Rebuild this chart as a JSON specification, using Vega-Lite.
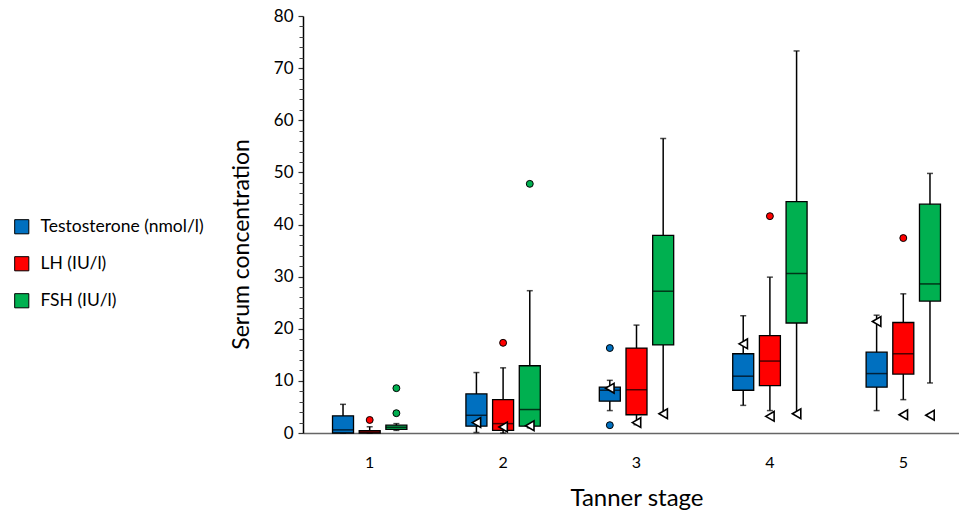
{
  "$schema": "https://vega.github.io/schema/vega-lite/v6.json",
  "width": 656,
  "height": 417,
  "autosize": {"type": "none"},
  "padding": {"left": 303, "top": 16, "right": 0, "bottom": 82},
  "background": "white",
  "config": {"view": {"stroke": null}, "font": "Lato"},
  "resolve": {"axis": {"y": "independent"}},
  "datasets": {
    "boxes": [
      {"stage": 1, "hormone": "Testosterone (nmol/l)", "lo": 0, "q1": 0, "med": 0.6, "q3": 3.3, "hi": 5.5},
      {"stage": 1, "hormone": "LH (IU/l)", "lo": 0, "q1": 0, "med": 0.2, "q3": 0.45, "hi": 1.2},
      {"stage": 1, "hormone": "FSH (IU/l)", "lo": 0.5, "q1": 0.7, "med": 1.1, "q3": 1.5, "hi": 1.8},
      {"stage": 2, "hormone": "Testosterone (nmol/l)", "lo": 0.1, "q1": 1.3, "med": 3.4, "q3": 7.5, "hi": 11.6},
      {"stage": 2, "hormone": "LH (IU/l)", "lo": 0, "q1": 0.5, "med": 1.8, "q3": 6.4, "hi": 12.5},
      {"stage": 2, "hormone": "FSH (IU/l)", "lo": 1.0, "q1": 1.3, "med": 4.5, "q3": 12.9, "hi": 27.3},
      {"stage": 3, "hormone": "Testosterone (nmol/l)", "lo": 4.3, "q1": 6.1, "med": 8.2, "q3": 8.8, "hi": 10.1},
      {"stage": 3, "hormone": "LH (IU/l)", "lo": 1.6, "q1": 3.5, "med": 8.3, "q3": 16.3, "hi": 20.7},
      {"stage": 3, "hormone": "FSH (IU/l)", "lo": 3.7, "q1": 16.9, "med": 27.2, "q3": 37.9, "hi": 56.5},
      {"stage": 4, "hormone": "Testosterone (nmol/l)", "lo": 5.3, "q1": 8.2, "med": 10.9, "q3": 15.2, "hi": 22.5},
      {"stage": 4, "hormone": "LH (IU/l)", "lo": 4.3, "q1": 9.1, "med": 13.8, "q3": 18.7, "hi": 29.9},
      {"stage": 4, "hormone": "FSH (IU/l)", "lo": 3.7, "q1": 21.1, "med": 30.6, "q3": 44.4, "hi": 73.3},
      {"stage": 5, "hormone": "Testosterone (nmol/l)", "lo": 4.3, "q1": 8.8, "med": 11.4, "q3": 15.5, "hi": 22.6},
      {"stage": 5, "hormone": "LH (IU/l)", "lo": 6.4, "q1": 11.3, "med": 15.2, "q3": 21.2, "hi": 26.7},
      {"stage": 5, "hormone": "FSH (IU/l)", "lo": 9.6, "q1": 25.3, "med": 28.6, "q3": 43.9, "hi": 49.8}
    ],
    "outliers": [
      {"stage": 1, "hormone": "LH (IU/l)", "value": 2.5},
      {"stage": 1, "hormone": "FSH (IU/l)", "value": 8.6},
      {"stage": 1, "hormone": "FSH (IU/l)", "value": 3.8},
      {"stage": 2, "hormone": "LH (IU/l)", "value": 17.3},
      {"stage": 2, "hormone": "FSH (IU/l)", "value": 47.8},
      {"stage": 3, "hormone": "Testosterone (nmol/l)", "value": 16.3},
      {"stage": 3, "hormone": "Testosterone (nmol/l)", "value": 1.5},
      {"stage": 4, "hormone": "LH (IU/l)", "value": 41.6},
      {"stage": 5, "hormone": "LH (IU/l)", "value": 37.4}
    ],
    "markers": [
      {"stage": 2, "hormone": "Testosterone (nmol/l)", "value": 2.0},
      {"stage": 2, "hormone": "LH (IU/l)", "value": 1.15},
      {"stage": 2, "hormone": "FSH (IU/l)", "value": 1.4},
      {"stage": 3, "hormone": "Testosterone (nmol/l)", "value": 8.6},
      {"stage": 3, "hormone": "LH (IU/l)", "value": 2.0},
      {"stage": 3, "hormone": "FSH (IU/l)", "value": 3.7},
      {"stage": 4, "hormone": "Testosterone (nmol/l)", "value": 17.1},
      {"stage": 4, "hormone": "LH (IU/l)", "value": 3.2},
      {"stage": 4, "hormone": "FSH (IU/l)", "value": 3.7},
      {"stage": 5, "hormone": "Testosterone (nmol/l)", "value": 21.4},
      {"stage": 5, "hormone": "LH (IU/l)", "value": 3.5},
      {"stage": 5, "hormone": "FSH (IU/l)", "value": 3.4}
    ]
  },
  "encoding": {
    "x": {
      "field": "stage",
      "type": "ordinal",
      "scale": {"domain": [1, 2, 3, 4, 5], "range": [0, 667], "paddingInner": 0, "paddingOuter": 0},
      "axis": {
        "title": "Tanner stage",
        "titleFontSize": 24,
        "titleFontWeight": "normal",
        "titleColor": "#000",
        "titlePadding": 16,
        "labelAngle": 0,
        "labelFontSize": 16,
        "labelColor": "#000",
        "labelPadding": 21,
        "ticks": false,
        "domainColor": "#666",
        "domainWidth": 1.5
      }
    },
    "xOffset": {
      "field": "hormone",
      "type": "nominal",
      "scale": {"domain": ["Testosterone (nmol/l)", "LH (IU/l)", "FSH (IU/l)"], "paddingInner": 0, "paddingOuter": 1.46}
    }
  },
  "layer": [
    {
      "data": {"name": "boxes"},
      "mark": {"type": "rule", "color": "black", "strokeWidth": 1.5},
      "encoding": {
        "y": {
          "field": "lo",
          "type": "quantitative",
          "scale": {"domain": [0, 80], "nice": false},
          "axis": {
            "orient": "left",
            "title": "Serum concentration",
            "titleFontSize": 23,
            "titleFontWeight": "normal",
            "titleColor": "#000",
            "titlePadding": 20,
            "titleY": 228,
            "values": [0, 10, 20, 30, 40, 50, 60, 70, 80],
            "labelOverlap": false,
            "labelFlush": false,
            "labelFontSize": 17,
            "labelColor": "#000",
            "labelPadding": 5,
            "tickSize": 5,
            "tickWidth": 1.2,
            "tickColor": "#333",
            "domainColor": "#000",
            "domainWidth": 1.5,
            "grid": false
          }
        },
        "y2": {"field": "hi"}
      }
    },
    {
      "data": {"name": "boxes"},
      "mark": {"type": "tick", "color": "black", "size": 6, "thickness": 1.5},
      "encoding": {
        "y": {
          "field": "hi",
          "type": "quantitative",
          "axis": {
            "orient": "left",
            "title": null,
            "values": [2, 4, 6, 8, 12, 14, 16, 18, 22, 24, 26, 28, 32, 34, 36, 38, 42, 44, 46, 48, 52, 54, 56, 58, 62, 64, 66, 68, 72, 74, 76, 78],
            "labels": false,
            "domain": false,
            "grid": false,
            "tickSize": 4,
            "tickWidth": 1,
            "tickColor": "#444"
          }
        }
      }
    },
    {
      "data": {"name": "boxes"},
      "mark": {"type": "tick", "color": "black", "size": 6, "thickness": 1.5},
      "encoding": {"y": {"field": "lo", "type": "quantitative", "axis": null}}
    },
    {
      "data": {"name": "boxes"},
      "mark": {"type": "bar", "size": 21, "stroke": "black", "strokeWidth": 1.3},
      "encoding": {
        "y": {"field": "q1", "type": "quantitative", "axis": null},
        "y2": {"field": "q3"},
        "color": {
          "field": "hormone",
          "type": "nominal",
          "scale": {"domain": ["Testosterone (nmol/l)", "LH (IU/l)", "FSH (IU/l)"], "range": ["#0070C0", "#FF0000", "#00B050"]},
          "legend": {
            "title": null,
            "orient": "none",
            "legendX": -290,
            "legendY": 202,
            "symbolType": "square",
            "symbolSize": 200,
            "symbolStrokeColor": "black",
            "symbolStrokeWidth": 1,
            "labelFontSize": 17.5,
            "labelLimit": 300,
            "labelColor": "#000",
            "labelOffset": 10,
            "rowPadding": 18
          }
        }
      }
    },
    {
      "data": {"name": "boxes"},
      "mark": {"type": "tick", "color": "black", "size": 21, "thickness": 1.5},
      "encoding": {"y": {"field": "med", "type": "quantitative", "axis": null}}
    },
    {
      "data": {"name": "outliers"},
      "mark": {"type": "point", "filled": true, "stroke": "black", "strokeWidth": 1, "size": 48, "opacity": 1},
      "encoding": {
        "y": {"field": "value", "type": "quantitative", "axis": null},
        "fill": {
          "field": "hormone",
          "type": "nominal",
          "scale": {"domain": ["Testosterone (nmol/l)", "LH (IU/l)", "FSH (IU/l)"], "range": ["#0070C0", "#FF0000", "#00B050"]},
          "legend": null
        }
      }
    },
    {
      "data": {"name": "markers"},
      "mark": {"type": "point", "shape": "triangle-left", "filled": true, "fill": "white", "stroke": "black", "strokeWidth": 1.6, "size": 95, "opacity": 1},
      "encoding": {"y": {"field": "value", "type": "quantitative", "axis": null}}
    }
  ]
}
